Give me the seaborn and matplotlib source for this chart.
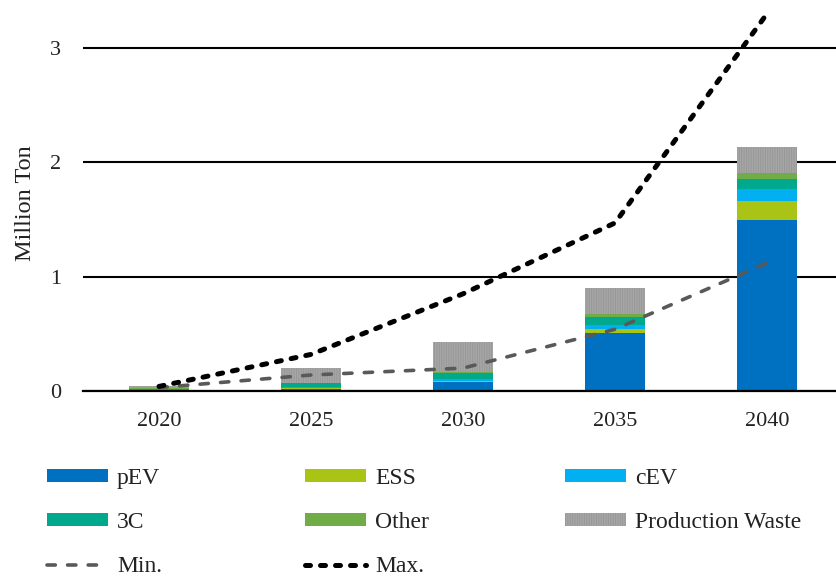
import numpy as np
import pandas as pd
import matplotlib
matplotlib.use("Agg")
import matplotlib.pyplot as plt
import seaborn as sns
from matplotlib.patches import Patch
from matplotlib.lines import Line2D

# Recycling volume by source (million ton)
years = ["2020", "2025", "2030", "2035", "2040"]
pev = [0.002, 0.020, 0.080, 0.505, 1.500]
ess = [0.001, 0.003, 0.005, 0.035, 0.160]
cev = [0.003, 0.015, 0.020, 0.040, 0.110]
c3 = [0.015, 0.030, 0.050, 0.070, 0.080]
other = [0.002, 0.005, 0.010, 0.020, 0.055]
prod_waste = [0.017, 0.125, 0.260, 0.235, 0.225]

# Scenario envelopes
min_scenario = [0.03, 0.14, 0.20, 0.54, 1.12]
max_scenario = [0.04, 0.32, 0.85, 1.47, 3.30]

segments = ["pEV", "ESS", "cEV", "3C", "Other", "Production Waste"]
colors = ["#0070C0", "#A9C415", "#00B0F0", "#00A88E", "#70AD47", "#A6A6A6"]

df = pd.DataFrame({
    "year": years, "pEV": pev, "ESS": ess, "cEV": cev, "3C": c3,
    "Other": other, "Production Waste": prod_waste,
    "Min.": min_scenario, "Max.": max_scenario,
})
cum = df[segments].cumsum(axis=1)

sns.set_theme(style="white")
plt.rcParams["font.family"] = ["Liberation Serif", "DejaVu Serif"]
plt.rcParams["hatch.linewidth"] = 0.6

W, H = 836, 577
fig = plt.figure(figsize=(W / 100, H / 100), dpi=100)
ax = fig.add_axes([83 / W, 1 - 391 / H, 760 / W, 391 / H])

FS_TICK = 16
FS_TEXT = 17.5
FS_LEG = 17
BAR_W = 0.4
TEXT_COLOR = "#222222"
waste_style = dict(hatch="|||||||", edgecolor="#969696")

# Stacked bars: draw cumulative totals from the top segment downwards
for seg, col in reversed(list(zip(segments, colors))):
    extra = waste_style if seg == "Production Waste" else {}
    sns.barplot(x=df["year"], y=cum[seg], color=col, width=BAR_W,
                saturation=1, linewidth=0, ax=ax, **extra)

min_style = dict(color="#595959", lw=2.6, linestyle=(0, (2.3, 3.4)),
                 dash_capstyle="round")
max_style = dict(color="black", lw=3.6, linestyle=(0, (1.0, 2.0)),
                 dash_capstyle="round")

pos = df.index
sns.lineplot(x=pos, y=df["Min."], ax=ax, zorder=3, **min_style)
sns.lineplot(x=pos, y=df["Max."], ax=ax, zorder=3, **max_style)

ax.set_xlim(-0.5, 4.5)
ax.set_ylim(0, 3.42)
ax.set_yticks([0, 1, 2, 3])
ax.set_xticks(range(len(years)))
ax.set_xticklabels(years)
ax.set_xlabel("")
ax.set_ylabel("")
ax.yaxis.grid(True, color="black", lw=1.5)
ax.set_axisbelow(True)
for side in ["top", "right", "left"]:
    ax.spines[side].set_visible(False)
ax.spines["bottom"].set_color("black")
ax.spines["bottom"].set_linewidth(1.6)
ax.tick_params(axis="y", length=0, pad=16, labelsize=FS_TICK, labelcolor=TEXT_COLOR)
ax.tick_params(axis="x", length=0, pad=15, labelsize=FS_TICK, labelcolor=TEXT_COLOR)

fig.text(26 / W, 1 - 203 / H, "Million Ton", rotation=90, ha="center",
         va="center", fontsize=FS_TEXT, color=TEXT_COLOR)

# Legend laid out in three columns
patch = {s: Patch(facecolor=c, linewidth=0, **(waste_style if s == "Production Waste" else {}))
         for s, c in zip(segments, colors)}
line_min = Line2D([], [], **min_style)
line_max = Line2D([], [], **max_style)
columns = [
    (47, [patch["pEV"], patch["3C"], line_min], ["pEV", "3C", "Min."]),
    (305, [patch["ESS"], patch["Other"], line_max], ["ESS", "Other", "Max."]),
    (565, [patch["cEV"], patch["Production Waste"]], ["cEV", "Production Waste"]),
]
for x_px, hs, ls in columns:
    fig.legend(hs, ls, loc="upper left", bbox_to_anchor=(x_px / W, 1 - 468 / H),
               frameon=False, borderpad=0, borderaxespad=0, handlelength=2.6,
               handleheight=0.5, handletextpad=0.36, labelspacing=0.98,
               fontsize=FS_LEG, labelcolor=TEXT_COLOR)

fig.savefig("out.png", dpi=100)
